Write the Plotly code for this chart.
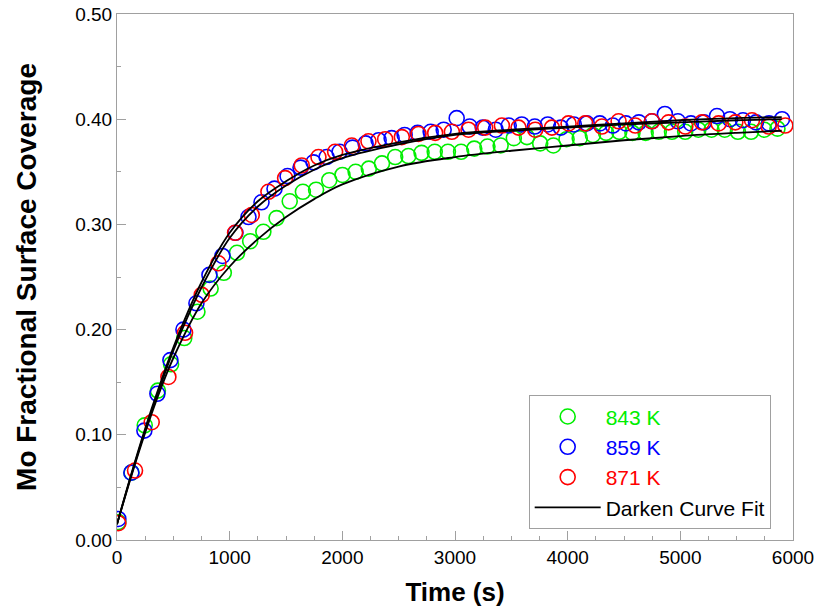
import plotly.graph_objects as go

# ---------------- data ----------------
t_843 = [12 + 117 * i for i in range(51)]
y_843 = [0.017, 0.064, 0.109, 0.142, 0.167, 0.192, 0.217, 0.239, 0.254, 0.273,
         0.284, 0.293, 0.306, 0.322, 0.331, 0.333, 0.342, 0.347, 0.350, 0.353,
         0.358, 0.364, 0.365, 0.368, 0.369, 0.369, 0.369, 0.372, 0.374, 0.375,
         0.382, 0.383, 0.377, 0.375, 0.381, 0.382, 0.385, 0.387, 0.388, 0.387,
         0.387, 0.388, 0.388, 0.388, 0.390, 0.390, 0.390, 0.388, 0.388, 0.390,
         0.391]

t_859 = [12 + 115.5 * i for i in range(52)]
y_859 = [0.020, 0.064, 0.104, 0.139, 0.171, 0.200, 0.225, 0.252, 0.270, 0.292,
         0.307, 0.321, 0.334, 0.346, 0.354, 0.359, 0.364, 0.369, 0.373, 0.377,
         0.380, 0.382, 0.385, 0.387, 0.388, 0.390, 0.401, 0.393, 0.392, 0.390,
         0.394, 0.395, 0.393, 0.395, 0.392, 0.395, 0.396, 0.396, 0.394, 0.396,
         0.397, 0.398, 0.405, 0.398, 0.396, 0.397, 0.403, 0.400, 0.399, 0.397,
         0.396, 0.400]

t_871 = [12 + 148 * i for i in range(41)]
y_871 = [0.016, 0.066, 0.112, 0.155, 0.197, 0.233, 0.263, 0.292, 0.309, 0.331,
         0.344, 0.356, 0.364, 0.369, 0.375, 0.379, 0.381, 0.383, 0.386, 0.387,
         0.388, 0.390, 0.392, 0.394, 0.392, 0.390, 0.392, 0.396, 0.396, 0.393,
         0.398, 0.394, 0.398, 0.397, 0.393, 0.397, 0.396, 0.397, 0.399, 0.393,
         0.394]

fit_t = [0, 125, 250, 375, 500, 750, 1000, 1250, 1500, 1750, 2000, 2500, 3000,
         3500, 4000, 4500, 5000, 5500, 5900]
fit_843 = [0.015, 0.060, 0.102, 0.140, 0.173, 0.225, 0.260, 0.286, 0.307, 0.324,
           0.338, 0.355, 0.364, 0.370, 0.375, 0.380, 0.384, 0.387, 0.389]
fit_859 = [0.015, 0.062, 0.106, 0.146, 0.183, 0.245, 0.292, 0.322, 0.341, 0.356,
           0.366, 0.378, 0.386, 0.390, 0.393, 0.396, 0.399, 0.401, 0.402]
fit_871 = [0.015, 0.061, 0.104, 0.143, 0.180, 0.240, 0.287, 0.317, 0.337, 0.352,
           0.363, 0.376, 0.385, 0.389, 0.392, 0.395, 0.397, 0.399, 0.400]

series_names = ["843 K", "859 K", "871 K"]
series_colors = ["#00EE00", "#0000FF", "#FF0000"]
x_ticks = [0, 1000, 2000, 3000, 4000, 5000, 6000]
y_ticks = [0.0, 0.1, 0.2, 0.3, 0.4, 0.5]

FONT = "Liberation Sans, Arial"

# ---------------- figure ----------------
fig = go.Figure()
for name, col, tx, ty in zip(series_names, series_colors,
                             [t_843, t_859, t_871], [y_843, y_859, y_871]):
    fig.add_trace(go.Scatter(
        x=tx, y=ty, mode="markers",
        name=f"<span style='color:{col}'>{name}</span>",
        marker=dict(symbol="circle-open", size=15, color=col,
                    line=dict(width=1.6, color=col)),
    ))

for i, fy in enumerate([fit_843, fit_859, fit_871]):
    fig.add_trace(go.Scatter(
        x=fit_t, y=fy, mode="lines", name="Darken Curve Fit",
        line=dict(color="black", width=1.8, shape="spline"),
        showlegend=(i == 0),
    ))

axis_common = dict(
    showline=True, linecolor="#a0a0a0", linewidth=1, mirror=True,
    ticks="inside", ticklen=9, tickcolor="#a0a0a0", tickwidth=1,
    showgrid=False, zeroline=False, automargin=False,
    tickfont=dict(family=FONT, size=19, color="black"),
)

fig.update_xaxes(
    range=[0, 6000], tickvals=x_ticks, ticktext=[str(v) for v in x_ticks],
    minor=dict(ticks="inside", ticklen=4, tickcolor="#a0a0a0", dtick=250, showgrid=False),
    title=dict(text="<b>Time (s)</b>", font=dict(family=FONT, size=26, color="black"),
               standoff=16),
    **axis_common,
)
fig.update_yaxes(
    range=[0, 0.5], tickvals=y_ticks, ticktext=[f"{v:.2f}" for v in y_ticks],
    minor=dict(ticks="inside", ticklen=4, tickcolor="#a0a0a0", dtick=0.05, showgrid=False),
    title=dict(text="<b>Mo Fractional Surface Coverage</b>",
               font=dict(family=FONT, size=28, color="black"),
               standoff=30),
    **axis_common,
)

fig.update_layout(
    width=817, height=612,
    margin=dict(l=117, r=24, t=14, b=72),
    paper_bgcolor="white", plot_bgcolor="white",
    legend=dict(
        x=0.609, y=0.275, xanchor="left", yanchor="top",
        bgcolor="white", bordercolor="#a0a0a0", borderwidth=1,
        font=dict(family=FONT, size=21, color="black"),
        itemwidth=66, tracegroupgap=0,
    ),
    showlegend=True,
)

fig.write_html("out.html")
